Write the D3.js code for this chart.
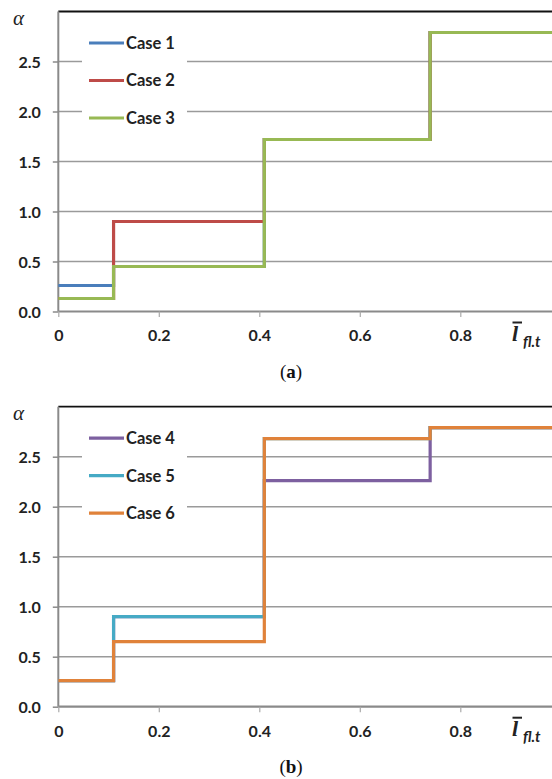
<!DOCTYPE html>
<html>
<head>
<meta charset="utf-8">
<script src="https://cdn.jsdelivr.net/npm/d3@7"></script>
<style>
  html, body { margin: 0; padding: 0; background: #fff; }
  svg { display: block; }
</style>
</head>
<body>
<svg id="chart" width="552" height="779"></svg>
<script>
// ---- data ----
const stepX = [0, 0.11, 0.41, 0.74, 0.985];
const yTicks = [0, 0.5, 1.0, 1.5, 2.0, 2.5];
const yTickLabels = ["0.0", "0.5", "1.0", "1.5", "2.0", "2.5"];
const xTicks = [0, 0.2, 0.4, 0.6, 0.8];
const xTickLabels = ["0", "0.2", "0.4", "0.6", "0.8"];

const namesA = ["Case 1", "Case 2", "Case 3"];
const case1 = [0.26, 0.45, 1.72, 2.79, 2.79];
const case2 = [0.13, 0.90, 1.72, 2.79, 2.79];
const case3 = [0.13, 0.45, 1.72, 2.79, 2.79];
const colorsA = ["#4a7ebb", "#be4b48", "#98b954"];

const namesB = ["Case 4", "Case 5", "Case 6"];
const case4 = [0.26, 0.90, 2.26, 2.79, 2.79];
const case5 = [0.26, 0.90, 2.68, 2.79, 2.79];
const case6 = [0.26, 0.65, 2.68, 2.79, 2.79];
const colorsB = ["#7d60a0", "#46aac5", "#e0823a"];

const captions = ["a", "b"];

// ---- drawing ----
const svg = d3.select("#chart");
const left = 58.3, right = 552;

function panel(top, bottom, names, series, colors, caption, capY) {
  const g = svg.append("g");
  const x = d3.scaleLinear().domain([0, 0.985]).range([left, left + 0.985 * 502.5]);
  const y = d3.scaleLinear().domain([0, 3]).range([bottom, top]);

  // gridlines
  g.append("g").selectAll("line").data(yTicks.slice(1)).join("line")
    .attr("x1", left).attr("x2", right)
    .attr("y1", d => y(d)).attr("y2", d => y(d))
    .attr("stroke", "#9a9a9a").attr("stroke-width", 1.5);
  // top border
  g.append("line").attr("x1", left).attr("x2", right)
    .attr("y1", y(3)).attr("y2", y(3))
    .attr("stroke", "#111").attr("stroke-width", 1.8);

  // y axis
  const yAxis = d3.axisLeft(y).tickValues(yTicks)
    .tickFormat((d, i) => yTickLabels[i]).tickSize(5.5).tickPadding(12);
  const ya = g.append("g").attr("transform", `translate(${left},0)`).call(yAxis);
  ya.select(".domain").attr("stroke", "#8a8a8a").attr("stroke-width", 2)
    .attr("d", `M0,${y(3)}V${bottom}`);
  ya.selectAll(".tick line").attr("stroke", "#8a8a8a").attr("stroke-width", 1.5);
  ya.selectAll(".tick text").attr("font-family", "Lato").attr("font-weight", "bold")
    .attr("font-size", 16).attr("fill", "#222").attr("dy", "0.36em");

  // x axis
  const xAxis = d3.axisBottom(x).tickValues(xTicks)
    .tickFormat((d, i) => xTickLabels[i]).tickSize(5.5).tickPadding(13);
  const xa = g.append("g").attr("transform", `translate(0,${bottom})`).call(xAxis);
  xa.select(".domain").attr("stroke", "#8a8a8a").attr("stroke-width", 2.2)
    .attr("d", `M${left},0H${right}`);
  xa.selectAll(".tick line").attr("stroke", "#aaa").attr("stroke-width", 1.2);
  xa.selectAll(".tick text").attr("font-family", "Lato").attr("font-weight", "bold")
    .attr("font-size", 16).attr("fill", "#222");

  // lines
  const line = d3.line().x((d, i) => x(stepX[i])).y(d => y(d)).curve(d3.curveStepAfter);
  series.forEach((s, k) => {
    g.append("path").datum(s).attr("d", line)
      .attr("fill", "none").attr("stroke", colors[k]).attr("stroke-width", 3.2)
      .attr("stroke-linejoin", "miter");
  });

  // legend
  const lg = g.append("g");
  lg.append("rect").attr("x", 82).attr("y", top + 12).attr("width", 105).attr("height", 115)
    .attr("fill", "#fff");
  names.forEach((n, k) => {
    const ly = top + 31.5 + k * 37.5;
    lg.append("line").attr("x1", 89).attr("x2", 124).attr("y1", ly).attr("y2", ly)
      .attr("stroke", colors[k]).attr("stroke-width", 3.2);
    lg.append("text").attr("x", 126).attr("y", ly).attr("dy", "0.36em")
      .attr("font-family", "Lato").attr("font-weight", "bold").attr("font-size", 16.5)
      .attr("fill", "#222").text(n);
  });

  // alpha label
  g.append("text").attr("x", 13).attr("y", top + 13)
    .attr("font-family", "Liberation Serif").attr("font-style", "italic")
    .attr("font-size", 21).attr("fill", "#222").text("α");

  // x label
  const lx = 512, lyb = bottom + 29;
  g.append("text").attr("x", lx).attr("y", lyb)
    .attr("font-family", "Liberation Serif").attr("font-style", "italic").attr("font-weight", "bold")
    .attr("font-size", 22).attr("fill", "#222").text("l");
  g.append("line").attr("x1", lx + 0.5).attr("x2", lx + 10).attr("y1", lyb - 18).attr("y2", lyb - 18)
    .attr("stroke", "#222").attr("stroke-width", 2);
  g.append("text").attr("x", lx + 11).attr("y", lyb + 6)
    .attr("font-family", "Lato").attr("font-style", "italic").attr("font-weight", "bold")
    .attr("font-size", 15).attr("fill", "#222").text(" fl.t");

  // caption
  const cap = g.append("text").attr("x", 291).attr("y", capY).attr("text-anchor", "middle")
    .attr("font-family", "Liberation Serif").attr("font-size", 19).attr("fill", "#111");
  cap.append("tspan").text("(");
  cap.append("tspan").attr("font-weight", "bold").text(caption);
  cap.append("tspan").text(")");
}

panel(11.5, 311.5, namesA, [case1, case2, case3], colorsA, captions[0], 378);
panel(406.7, 706.7, namesB, [case4, case5, case6], colorsB, captions[1], 773);
</script>
</body>
</html>
